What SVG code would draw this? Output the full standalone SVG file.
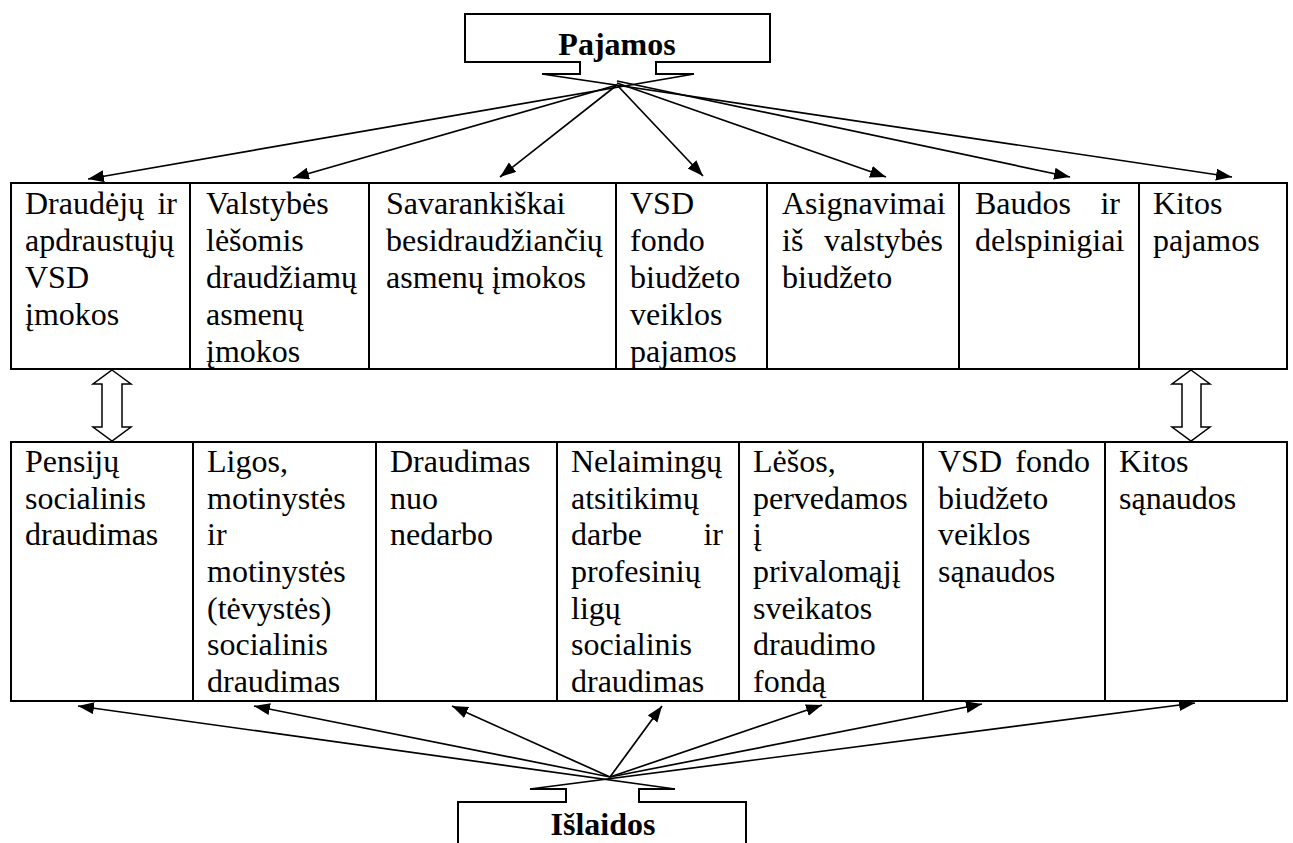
<svg xmlns="http://www.w3.org/2000/svg" width="1293" height="843" viewBox="0 0 1293 843">
<style>
text{font-family:'Liberation Serif','Times New Roman',serif;font-size:32px;fill:#000}
.b{font-weight:bold}
.e{text-anchor:end}
.box{fill:#fff;stroke:#000;stroke-width:2}
.div{stroke:#000;stroke-width:2}
.arr{stroke:#000;stroke-width:1.7;fill:none;marker-end:url(#ah)}
.ln{stroke:#000;stroke-width:2;fill:#fff}
.dbl{fill:#fff;stroke:#000;stroke-width:1.5}
</style>
<defs>
<marker id="ah" markerUnits="userSpaceOnUse" markerWidth="17" markerHeight="13" refX="16" refY="6" orient="auto">
<path d="M0,0 L16,6 L0,12 z" fill="#000"/>
</marker>
</defs>
<rect width="1293" height="843" fill="#fff"/>

<g id="connectors">
<path class="arr" d="M694,74 L88,179"/>
<path class="arr" d="M617,85 L293,178"/>
<path class="arr" d="M617,85 L500,177"/>
<path class="arr" d="M617,85 L703,176"/>
<path class="arr" d="M617,83 L886,177"/>
<path class="arr" d="M617,81 L1070,177"/>
<path class="arr" d="M542,74 L1232,177"/>

<path class="arr" d="M675,789 L78,706"/>
<path class="arr" d="M610,777 L254,706"/>
<path class="arr" d="M610,777 L452,706"/>
<path class="arr" d="M610,777 L662,706"/>
<path class="arr" d="M610,777 L822,705"/>
<path class="arr" d="M610,777 L982,704"/>
<path class="arr" d="M530,789 L1195,703"/>

<path class="dbl" d="M112,370 L131,384 L122,384 L122,427 L131,427 L112,441 L93,427 L102,427 L102,384 L93,384 Z"/>
<path class="dbl" d="M1191,370 L1210,384 L1201,384 L1201,427 L1210,427 L1191,441 L1172,427 L1182,427 L1182,384 L1172,384 Z"/>
</g>

<g id="pajamos">
<path class="ln" d="M542,74 H580 V62 H465 V14 H770 V62 H656 V74 H694"/>
<text class="b" x="617" y="55" text-anchor="middle">Pajamos</text>
</g>

<g id="islaidos">
<path class="ln" d="M530,789 H566 V802 H458 V850 M746,850 V802 H639 V789 H675"/>
<text class="b" x="603" y="835" text-anchor="middle">Išlaidos</text>
</g>

<g id="income-row">
<rect class="box" x="11" y="183" width="1276" height="186"/>
<line class="div" x1="190" y1="183" x2="190" y2="369"/>
<line class="div" x1="369" y1="183" x2="369" y2="369"/>
<line class="div" x1="616" y1="183" x2="616" y2="369"/>
<line class="div" x1="767" y1="183" x2="767" y2="369"/>
<line class="div" x1="959" y1="183" x2="959" y2="369"/>
<line class="div" x1="1139" y1="183" x2="1139" y2="369"/>
</g>

<g id="inc1">
<text x="25" y="214">Draudėjų</text><text class="e" x="177" y="214">ir</text>
<text x="25" y="251">apdraustųjų</text>
<text x="25" y="288">VSD</text>
<text x="25" y="325">įmokos</text>
</g>
<g id="inc2">
<text x="206" y="214">Valstybės</text>
<text x="206" y="251">lėšomis</text>
<text x="206" y="288">draudžiamų</text>
<text x="206" y="325">asmenų</text>
<text x="206" y="362">įmokos</text>
</g>
<g id="inc3">
<text x="386" y="214">Savarankiškai</text>
<text x="386" y="251">besidraudžiančių</text>
<text x="386" y="288">asmenų įmokos</text>
</g>
<g id="inc4">
<text x="630" y="214">VSD</text>
<text x="630" y="251">fondo</text>
<text x="630" y="288">biudžeto</text>
<text x="630" y="325">veiklos</text>
<text x="630" y="362">pajamos</text>
</g>
<g id="inc5">
<text x="782" y="214">Asignavimai</text>
<text x="782" y="251">iš</text><text class="e" x="943" y="251">valstybės</text>
<text x="782" y="288">biudžeto</text>
</g>
<g id="inc6">
<text x="975" y="214">Baudos</text><text class="e" x="1120" y="214">ir</text>
<text x="975" y="251">delspinigiai</text>
</g>
<g id="inc7">
<text x="1153" y="214">Kitos</text>
<text x="1153" y="251">pajamos</text>
</g>

<g id="expense-row">
<rect class="box" x="11" y="442" width="1276" height="259"/>
<line class="div" x1="193" y1="442" x2="193" y2="701"/>
<line class="div" x1="376" y1="442" x2="376" y2="701"/>
<line class="div" x1="557" y1="442" x2="557" y2="701"/>
<line class="div" x1="739" y1="442" x2="739" y2="701"/>
<line class="div" x1="923" y1="442" x2="923" y2="701"/>
<line class="div" x1="1105" y1="442" x2="1105" y2="701"/>
</g>

<g id="exp1">
<text x="25" y="472">Pensijų</text>
<text x="25" y="509">socialinis</text>
<text x="25" y="545">draudimas</text>
</g>
<g id="exp2">
<text x="207" y="472">Ligos,</text>
<text x="207" y="509">motinystės</text>
<text x="207" y="545">ir</text>
<text x="207" y="582">motinystės</text>
<text x="207" y="619">(tėvystės)</text>
<text x="207" y="655">socialinis</text>
<text x="207" y="692">draudimas</text>
</g>
<g id="exp3">
<text x="390" y="472">Draudimas</text>
<text x="390" y="509">nuo</text>
<text x="390" y="545">nedarbo</text>
</g>
<g id="exp4">
<text x="571" y="472">Nelaimingų</text>
<text x="571" y="509">atsitikimų</text>
<text x="571" y="545">darbe</text><text class="e" x="723" y="545">ir</text>
<text x="571" y="582">profesinių</text>
<text x="571" y="619">ligų</text>
<text x="571" y="655">socialinis</text>
<text x="571" y="692">draudimas</text>
</g>
<g id="exp5">
<text x="753" y="472">Lėšos,</text>
<text x="753" y="509">pervedamos</text>
<text x="753" y="545">į</text>
<text x="753" y="582">privalomąjį</text>
<text x="753" y="619">sveikatos</text>
<text x="753" y="655">draudimo</text>
<text x="753" y="692">fondą</text>
</g>
<g id="exp6">
<text x="938" y="472">VSD</text><text class="e" x="1090" y="472">fondo</text>
<text x="938" y="509">biudžeto</text>
<text x="938" y="545">veiklos</text>
<text x="938" y="582">sąnaudos</text>
</g>
<g id="exp7">
<text x="1119" y="472">Kitos</text>
<text x="1119" y="509">sąnaudos</text>
</g>
</svg>
